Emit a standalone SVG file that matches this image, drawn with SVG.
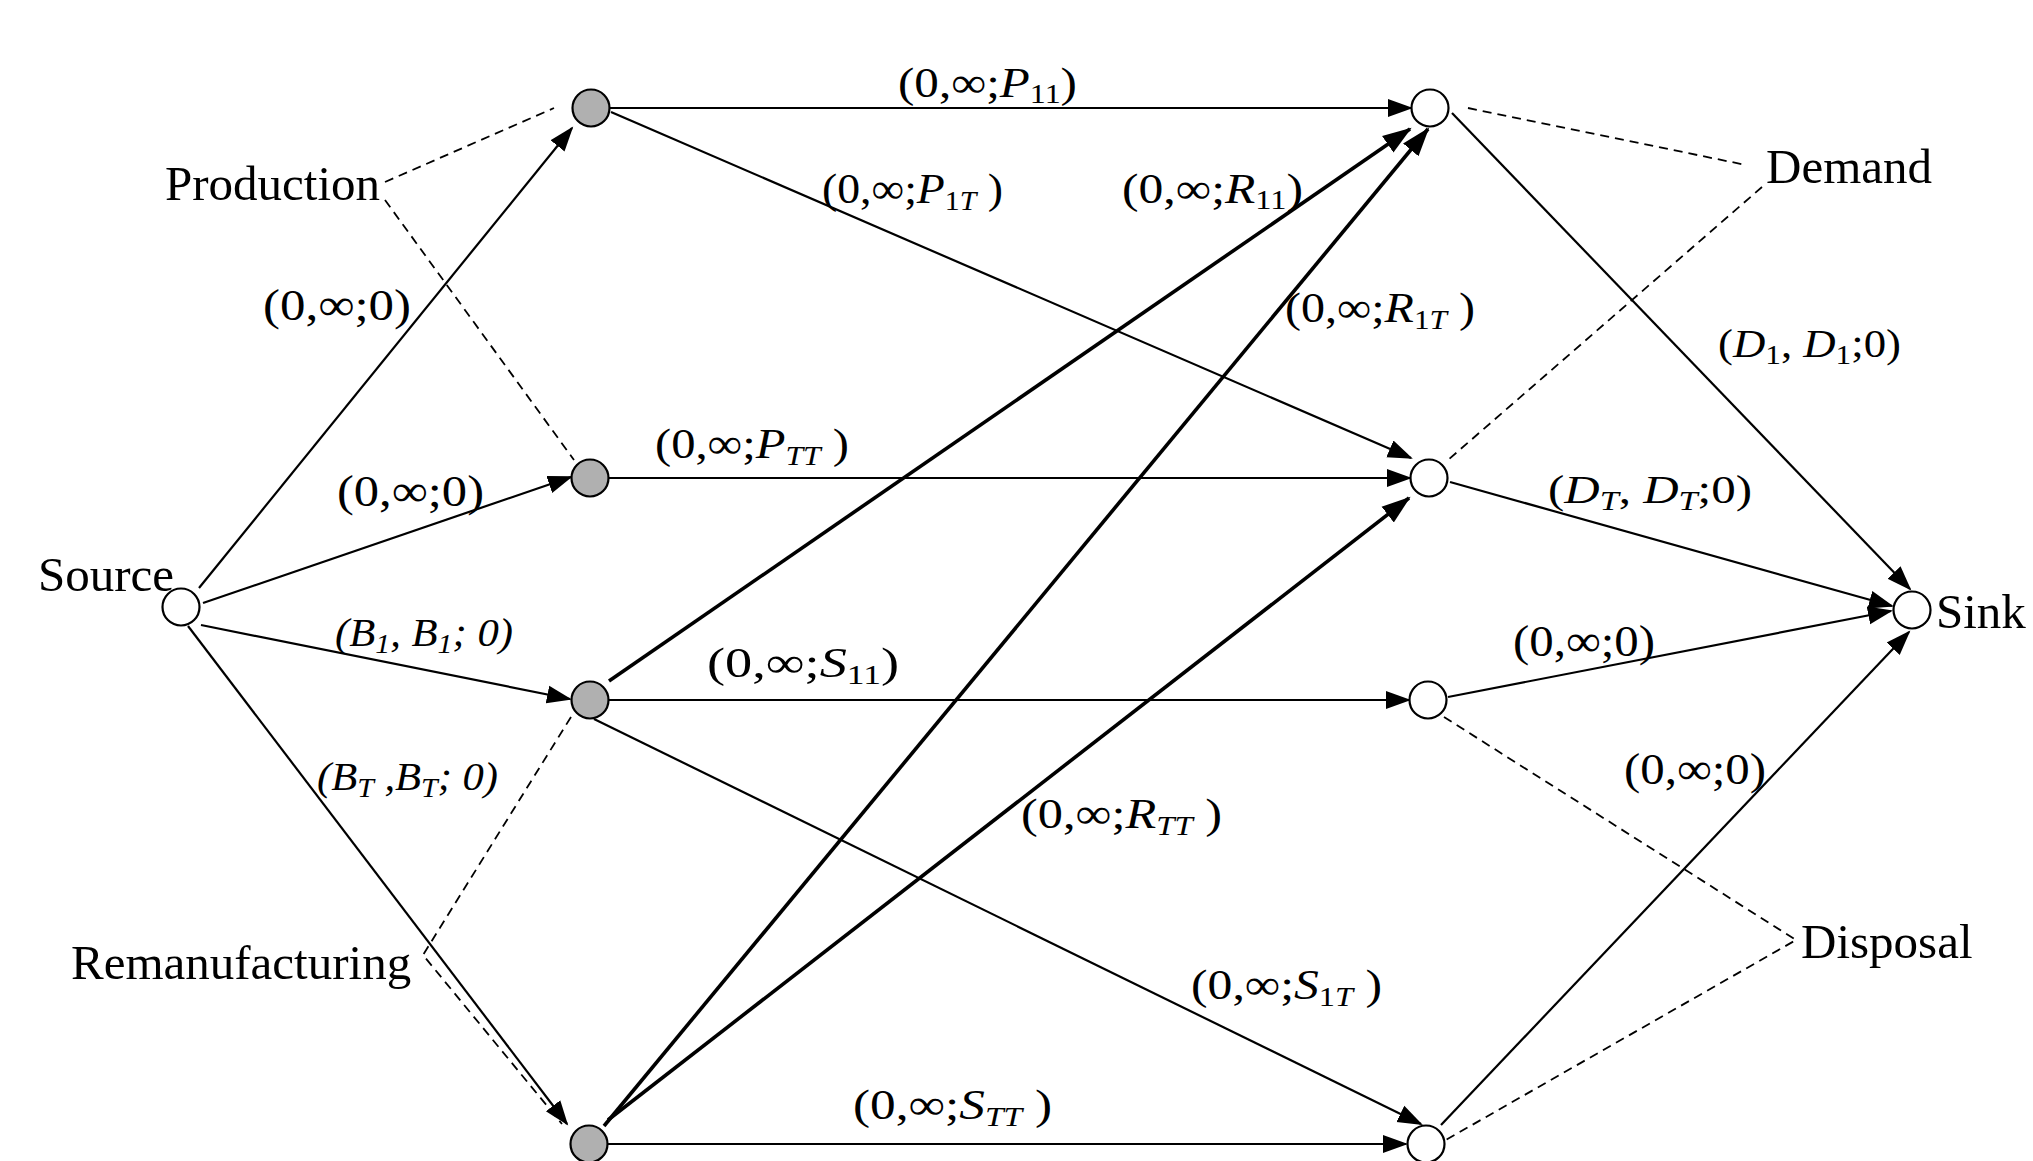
<svg xmlns="http://www.w3.org/2000/svg" width="2033" height="1161" viewBox="0 0 2033 1161">
<style>
.bg{fill:#fff}
.c{stroke:#000;stroke-width:2.2;fill:none}
.ck{stroke:#000;stroke-width:3.6;fill:none}
.d{stroke:#000;stroke-width:1.8;fill:none;stroke-dasharray:9 6}
.nw{fill:#fff;stroke:#000;stroke-width:2.2}
.ng{fill:#b0b0b0;stroke:#000;stroke-width:2.2}
.t{font-family:"Liberation Serif","Times New Roman",serif;font-size:49px;fill:#000}
.m{font-family:"Liberation Serif","Times New Roman",serif;font-size:43px;fill:#000}
.mz{font-family:"Liberation Serif","Times New Roman",serif;font-size:45px;fill:#000}
.mb{font-family:"Liberation Serif","Times New Roman",serif;font-size:40px;fill:#000}
.i{font-style:italic}
.s{font-size:28px}
</style>
<defs>
<marker id="ah" markerUnits="userSpaceOnUse" markerWidth="26" markerHeight="20" refX="23" refY="10" orient="auto">
<path d="M0,1 L25,10 L0,19 z" fill="#000"/>
</marker>
<marker id="ahk" markerUnits="userSpaceOnUse" markerWidth="30" markerHeight="22" refX="27" refY="11" orient="auto">
<path d="M0,1 L29,11 L0,21 z" fill="#000"/>
</marker>
</defs>
<rect class="bg" x="0" y="0" width="2033" height="1161"/>

<g id="connectors">
<line class="c" x1="199" y1="588" x2="572" y2="128" marker-end="url(#ah)"/>
<line class="c" x1="203" y1="603" x2="571" y2="477" marker-end="url(#ah)"/>
<line class="c" x1="201" y1="625" x2="570" y2="699" marker-end="url(#ah)"/>
<line class="c" x1="188" y1="626" x2="567" y2="1124" marker-end="url(#ah)"/>
<line class="c" x1="609" y1="108" x2="1411" y2="108" marker-end="url(#ah)"/>
<line class="c" x1="611" y1="112" x2="1411" y2="458" marker-end="url(#ah)"/>
<line class="c" x1="609" y1="478" x2="1410" y2="478" marker-end="url(#ah)"/>
<line class="ck" x1="609" y1="681" x2="1410" y2="129" marker-end="url(#ahk)"/>
<line class="c" x1="609" y1="700" x2="1409" y2="700" marker-end="url(#ah)"/>
<line class="c" x1="594" y1="719" x2="1421" y2="1124" marker-end="url(#ah)"/>
<line class="ck" x1="604" y1="1126" x2="1428" y2="129" marker-end="url(#ahk)"/>
<line class="ck" x1="608" y1="1120" x2="1409" y2="498" marker-end="url(#ahk)"/>
<line class="c" x1="608" y1="1144" x2="1406" y2="1144" marker-end="url(#ah)"/>
<line class="c" x1="1452" y1="113" x2="1910" y2="589" marker-end="url(#ah)"/>
<line class="c" x1="1450" y1="482" x2="1892" y2="606" marker-end="url(#ah)"/>
<line class="c" x1="1448" y1="697" x2="1891" y2="611" marker-end="url(#ah)"/>
<line class="c" x1="1441" y1="1125" x2="1909" y2="632" marker-end="url(#ah)"/>
<line class="d" x1="385" y1="182" x2="554" y2="108"/>
<line class="d" x1="385" y1="200" x2="574" y2="460"/>
<polyline class="d" points="571,717 423,955 562,1124"/>
<line class="d" x1="1468" y1="108" x2="1746" y2="165"/>
<line class="d" x1="1762" y1="187" x2="1448" y2="460"/>
<polyline class="d" points="1444,717 1796,940 1444,1141"/>
</g>

<g id="edge-labels">
<text class="mz" x="263" y="320" textLength="148" lengthAdjust="spacingAndGlyphs">(0,∞;0)</text>
<text class="mz" x="337" y="506" textLength="147" lengthAdjust="spacingAndGlyphs">(0,∞;0)</text>
<text class="mb i" x="335" y="646" textLength="178" lengthAdjust="spacingAndGlyphs">(B<tspan class="s" dy="7">1</tspan><tspan dy="-7">, B</tspan><tspan class="s" dy="7">1</tspan><tspan dy="-7">; 0)</tspan></text>
<text class="mb i" x="317" y="790" textLength="181" lengthAdjust="spacingAndGlyphs">(B<tspan class="s" dy="7">T</tspan><tspan dy="-7"> ,B</tspan><tspan class="s" dy="7">T</tspan><tspan dy="-7">; 0)</tspan></text>
<text class="m" x="898" y="97" textLength="179" lengthAdjust="spacingAndGlyphs">(0,∞;<tspan class="i">P</tspan><tspan class="s" dy="6">11</tspan><tspan dy="-6">)</tspan></text>
<text class="m" x="822" y="203" textLength="181" lengthAdjust="spacingAndGlyphs">(0,∞;<tspan class="i">P</tspan><tspan class="s" dy="7">1<tspan class="i">T</tspan></tspan><tspan dy="-7"> )</tspan></text>
<text class="m" x="1122" y="203" textLength="181" lengthAdjust="spacingAndGlyphs">(0,∞;<tspan class="i">R</tspan><tspan class="s" dy="6">11</tspan><tspan dy="-6">)</tspan></text>
<text class="m" x="1285" y="322" textLength="190" lengthAdjust="spacingAndGlyphs">(0,∞;<tspan class="i">R</tspan><tspan class="s" dy="7">1<tspan class="i">T</tspan></tspan><tspan dy="-7"> )</tspan></text>
<text class="m" x="655" y="458" textLength="194" lengthAdjust="spacingAndGlyphs">(0,∞;<tspan class="i">P</tspan><tspan class="s i" dy="7">TT</tspan><tspan dy="-7"> )</tspan></text>
<text class="m" x="707" y="677" textLength="192" lengthAdjust="spacingAndGlyphs">(0,∞;<tspan class="i">S</tspan><tspan class="s" dy="7">11</tspan><tspan dy="-7">)</tspan></text>
<text class="m" x="1021" y="828" textLength="201" lengthAdjust="spacingAndGlyphs">(0,∞;<tspan class="i">R</tspan><tspan class="s i" dy="7">TT</tspan><tspan dy="-7"> )</tspan></text>
<text class="m" x="1191" y="999" textLength="191" lengthAdjust="spacingAndGlyphs">(0,∞;<tspan class="i">S</tspan><tspan class="s" dy="7">1<tspan class="i">T</tspan></tspan><tspan dy="-7"> )</tspan></text>
<text class="m" x="853" y="1119" textLength="199" lengthAdjust="spacingAndGlyphs">(0,∞;<tspan class="i">S</tspan><tspan class="s i" dy="7">TT</tspan><tspan dy="-7"> )</tspan></text>
<text class="mb" x="1718" y="357" textLength="183" lengthAdjust="spacingAndGlyphs">(<tspan class="i">D</tspan><tspan class="s" dy="7">1</tspan><tspan dy="-7">, </tspan><tspan class="i">D</tspan><tspan class="s" dy="7">1</tspan><tspan dy="-7">;0)</tspan></text>
<text class="mb" x="1548" y="503" textLength="204" lengthAdjust="spacingAndGlyphs">(<tspan class="i">D</tspan><tspan class="s i" dy="7">T</tspan><tspan dy="-7">, </tspan><tspan class="i">D</tspan><tspan class="s i" dy="7">T</tspan><tspan dy="-7">;0)</tspan></text>
<text class="mz" x="1513" y="656" textLength="142" lengthAdjust="spacingAndGlyphs">(0,∞;0)</text>
<text class="mz" x="1624" y="784" textLength="142" lengthAdjust="spacingAndGlyphs">(0,∞;0)</text>
</g>

<g id="source"><circle class="nw" cx="181" cy="607" r="18.5"/><text class="t" x="38" y="591">Source</text></g>
<g id="p1"><circle class="ng" cx="591" cy="108" r="18.5"/></g>
<g id="pT"><circle class="ng" cx="590" cy="478" r="18.5"/></g>
<g id="r1"><circle class="ng" cx="590" cy="700" r="18.5"/></g>
<g id="rT"><circle class="ng" cx="589" cy="1144" r="18.5"/></g>
<g id="d1"><circle class="nw" cx="1430" cy="108" r="18.5"/></g>
<g id="dT"><circle class="nw" cx="1429" cy="478" r="18.5"/></g>
<g id="x1"><circle class="nw" cx="1428" cy="700" r="18.5"/></g>
<g id="xT"><circle class="nw" cx="1426" cy="1144" r="18.5"/></g>
<g id="sink"><circle class="nw" cx="1912" cy="610" r="18.5"/><text class="t" x="1936" y="628">Sink</text></g>
<g id="production"><text class="t" x="165" y="200">Production</text></g>
<g id="remanufacturing"><text class="t" x="71" y="979">Remanufacturing</text></g>
<g id="demand"><text class="t" x="1766" y="183">Demand</text></g>
<g id="disposal"><text class="t" x="1801" y="958">Disposal</text></g>
</svg>
